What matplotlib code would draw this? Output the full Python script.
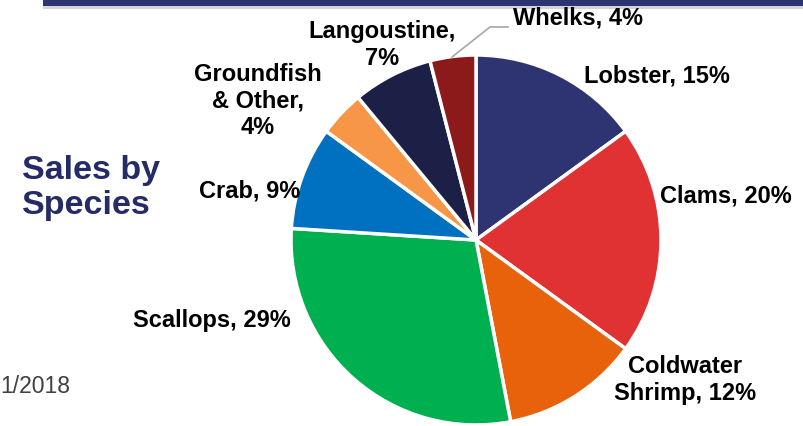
import matplotlib.pyplot as plt
import matplotlib as mpl
from matplotlib.patches import Rectangle

mpl.rcParams.update({
    'font.family': ['Liberation Sans', 'DejaVu Sans'],
    'font.weight': 'bold',
})

# Slice data, clockwise from 12 o'clock
species = ['Lobster', 'Clams', 'Coldwater\nShrimp', 'Scallops', 'Crab',
           'Groundfish\n& Other', 'Langoustine', 'Whelks']
shares = [15, 20, 12, 29, 9, 4, 7, 4]
colors = ['#2E3371', '#E03233', '#E8620C', '#00B050', '#0070C0',
          '#F79646', '#1C2046', '#8C1A1B']

# label text and where it sits (pixel coords, from the top-left)
label_text = ['Lobster, 15%', 'Clams, 20%', 'Coldwater\nShrimp, 12%', 'Scallops, 29%',
              'Crab, 9%', 'Groundfish\n& Other,\n4%', 'Langoustine,\n7%', 'Whelks, 4%']
label_px = [(657, 76), (726, 196), (685, 380), (212, 321),
            (250, 191), (258, 101), (382, 45), (578, 18)]

W, H = 804, 427
fig = plt.figure(figsize=(W / 100, H / 100), dpi=100)
fig.patch.set_facecolor('white')

# header bar with a soft shadow
fig.patches.append(Rectangle((43 / W, 1 - 10 / H), 1, 10 / H, transform=fig.transFigure,
                             facecolor='#D5D5D5', edgecolor='none', zorder=0))
fig.patches.append(Rectangle((43 / W, 1 - 7 / H), 1, 7 / H, transform=fig.transFigure,
                             facecolor='#2E3371', edgecolor='none', zorder=1))

# pie axes: centre (476, 241), radius 185 px
cx, cy, r = 476, 241, 185
ax = fig.add_axes([(cx - r) / W, (H - cy - r) / H, 2 * r / W, 2 * r / H])
ax.pie(shares, colors=colors, startangle=90, counterclock=False,
       wedgeprops={'edgecolor': 'white', 'linewidth': 2.5})
ax.set_xlim(-1, 1)
ax.set_ylim(-1, 1)
ax.axis('off')

for txt, (x, y) in zip(label_text, label_px):
    fig.text(x / W, 1 - y / H, txt, ha='center', va='center', fontsize=17,
             fontweight='bold', color='black', linespacing=1.22)

# leader line for Whelks
fig.add_artist(plt.Line2D([452 / W, 490 / W, 508 / W],
                          [1 - 58 / H, 1 - 28 / H, 1 - 28 / H],
                          color='#A6A6A6', linewidth=1.2))

# side title and date
fig.text(22 / W, 1 - 188 / H, 'Sales by\nSpecies', ha='left', va='center',
         fontsize=24.5, fontweight='bold', color='#252B67', linespacing=1.2)
fig.text(70 / W, 1 - 393 / H, '1/2018', ha='right', va='baseline',
         fontsize=16.5, fontweight='normal', color='#404040')

plt.savefig('out.png', dpi=100)
